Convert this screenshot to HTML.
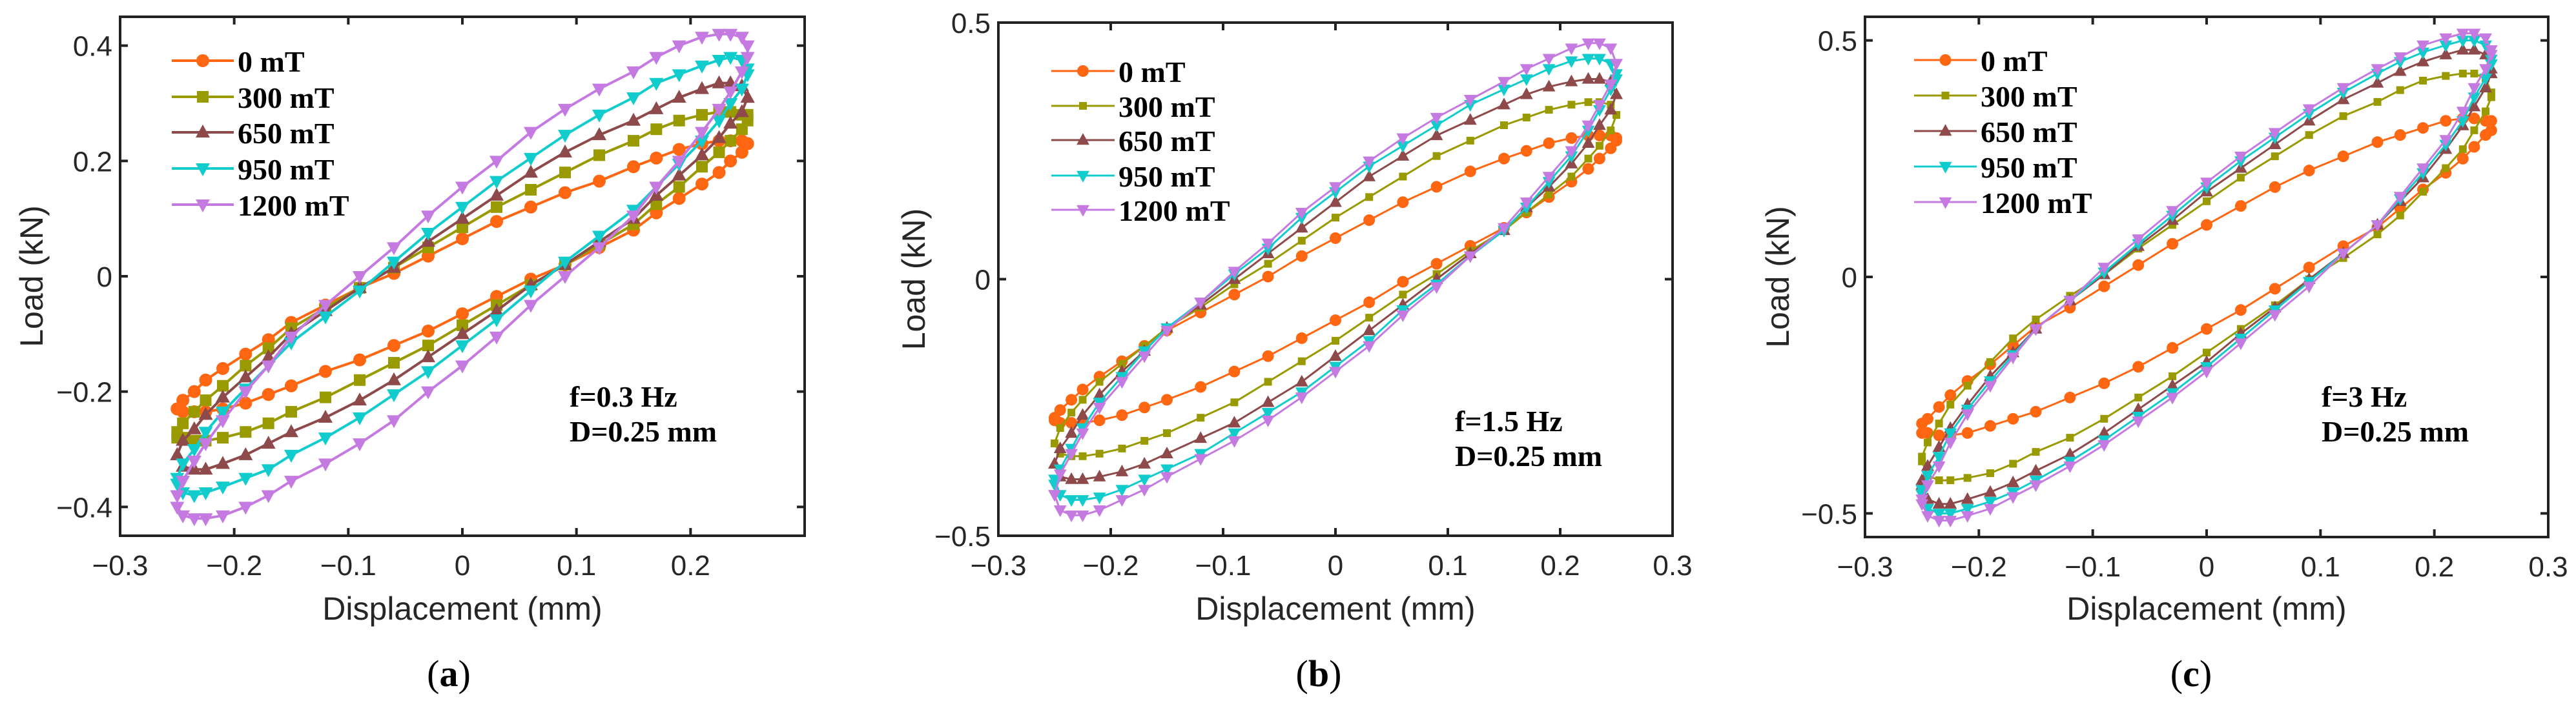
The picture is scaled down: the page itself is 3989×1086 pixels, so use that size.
<!DOCTYPE html>
<html><head><meta charset="utf-8"><style>
html,body{margin:0;padding:0;background:#fff;}
svg{display:block;}
text{font-family:"Liberation Sans",Arial,sans-serif;fill:#262626;}
.leg,.ann{font-family:"Liberation Serif","Times New Roman",serif;font-weight:bold;fill:#000;}
.cap{font-family:"Liberation Serif",serif;fill:#000;}
</style></head><body>
<svg id="fig" width="3989" height="1086" viewBox="0 0 3989 1086" xmlns="http://www.w3.org/2000/svg"></svg>
<script>
// shared displacement grid for the loading (upper) branch, mm
const dispGrid = [-0.25,-0.245,-0.235,-0.225,-0.21,-0.19,-0.17,-0.15,-0.12,-0.09,-0.06,-0.03,0,0.03,0.06,0.09,0.12,0.15,0.17,0.19,0.21,0.225,0.235,0.245,0.25];
const seriesNames = ["0 mT","300 mT","650 mT","950 mT","1200 mT"];
// panel (a) f=0.3 Hz, upper branch loads (kN)
const a0 = [-0.23,-0.215,-0.2,-0.18,-0.16,-0.135,-0.11,-0.08,-0.05,-0.02,0.005,0.035,0.065,0.095,0.12,0.145,0.165,0.19,0.205,0.22,0.23,0.235,0.235,0.235,0.23];
const a300 = [-0.28,-0.255,-0.235,-0.215,-0.19,-0.155,-0.125,-0.09,-0.055,-0.02,0.015,0.05,0.085,0.12,0.15,0.18,0.21,0.235,0.255,0.27,0.28,0.285,0.285,0.28,0.27];
const a650 = [-0.31,-0.285,-0.265,-0.24,-0.21,-0.175,-0.14,-0.1,-0.06,-0.02,0.015,0.06,0.1,0.14,0.18,0.215,0.245,0.27,0.29,0.31,0.325,0.335,0.335,0.33,0.31];
const a950 = [-0.35,-0.325,-0.3,-0.27,-0.235,-0.195,-0.155,-0.115,-0.07,-0.025,0.025,0.075,0.12,0.165,0.205,0.245,0.28,0.31,0.335,0.35,0.365,0.375,0.38,0.375,0.36];
const a1200 = [-0.38,-0.355,-0.32,-0.29,-0.25,-0.2,-0.155,-0.105,-0.05,0,0.05,0.105,0.155,0.2,0.25,0.29,0.325,0.355,0.38,0.4,0.415,0.42,0.42,0.415,0.4];
// panel (b) f=1.5 Hz
const b0 = [-0.275,-0.255,-0.235,-0.215,-0.19,-0.16,-0.13,-0.1,-0.065,-0.03,0.005,0.045,0.08,0.115,0.15,0.18,0.21,0.235,0.25,0.265,0.275,0.28,0.28,0.28,0.27];
const b300 = [-0.32,-0.29,-0.26,-0.235,-0.2,-0.165,-0.13,-0.095,-0.055,-0.01,0.03,0.075,0.12,0.16,0.2,0.24,0.27,0.3,0.315,0.33,0.34,0.345,0.345,0.34,0.32];
const b650 = [-0.36,-0.33,-0.3,-0.265,-0.225,-0.18,-0.14,-0.095,-0.05,0,0.05,0.1,0.15,0.2,0.24,0.28,0.31,0.34,0.36,0.375,0.385,0.39,0.39,0.385,0.36];
const b950 = [-0.4,-0.37,-0.33,-0.29,-0.24,-0.19,-0.14,-0.095,-0.045,0.01,0.06,0.12,0.17,0.22,0.26,0.3,0.34,0.37,0.39,0.41,0.425,0.43,0.43,0.42,0.39];
const b1200 = [-0.42,-0.38,-0.34,-0.3,-0.25,-0.2,-0.15,-0.1,-0.045,0.015,0.07,0.13,0.18,0.23,0.275,0.315,0.35,0.385,0.41,0.43,0.45,0.46,0.46,0.45,0.42];
// panel (c) f=3 Hz
const c0 = [-0.33,-0.3,-0.275,-0.25,-0.22,-0.185,-0.145,-0.105,-0.065,-0.02,0.025,0.07,0.11,0.15,0.19,0.225,0.255,0.285,0.3,0.315,0.33,0.335,0.335,0.33,0.31];
const c300 = [-0.38,-0.35,-0.31,-0.27,-0.23,-0.18,-0.13,-0.09,-0.04,0.005,0.06,0.11,0.16,0.21,0.255,0.3,0.34,0.37,0.395,0.415,0.425,0.43,0.43,0.42,0.39];
const c650 = [-0.43,-0.4,-0.36,-0.32,-0.27,-0.21,-0.16,-0.11,-0.05,0.005,0.065,0.12,0.18,0.23,0.28,0.33,0.375,0.41,0.435,0.455,0.47,0.48,0.48,0.47,0.44];
const c950 = [-0.45,-0.42,-0.38,-0.33,-0.28,-0.22,-0.165,-0.11,-0.05,0.01,0.07,0.13,0.19,0.245,0.295,0.345,0.39,0.43,0.455,0.475,0.49,0.5,0.5,0.49,0.46];
const c1200 = [-0.47,-0.44,-0.4,-0.35,-0.29,-0.23,-0.17,-0.11,-0.05,0.02,0.08,0.14,0.2,0.255,0.305,0.355,0.4,0.44,0.465,0.49,0.505,0.515,0.515,0.505,0.48];
const xTicks = [-0.3,-0.2,-0.1,0,0.1,0.2,0.3];
const xTickLabelsA = ["−0.3","−0.2","−0.1","0","0.1","0.2",""];
const xTickLabelsBC = ["−0.3","−0.2","−0.1","0","0.1","0.2","0.3"];
const yTicksA = [-0.4,-0.2,0,0.2,0.4];
const yTickLabelsA = ["−0.4","−0.2","0","0.2","0.4"];
const yTicksBC = [-0.5,0,0.5];
const yTickLabelsBC = ["−0.5","0","0.5"];

const NS="http://www.w3.org/2000/svg";
const svg=document.getElementById('fig');
const colors=["#ff6611","#999900","#8e4a4a","#11cccc","#c47ae0"];
const shapes=["circle","square","up","down","down"];
function mk(tag,attrs,parent){const e=document.createElementNS(NS,tag);for(const k in attrs)e.setAttribute(k,attrs[k]);(parent||svg).appendChild(e);return e;}
function marker(g,shape,cx,cy,s,col){
  let e;
  if(shape==="circle"){e=mk('circle',{cx:cx,cy:cy,r:s/2,fill:col},g);}
  else if(shape==="square"){e=mk('rect',{x:cx-s/2,y:cy-s/2,width:s,height:s,fill:col},g);}
  else if(shape==="up"){e=mk('polygon',{points:`${cx},${cy-s*0.6} ${cx-s*0.55},${cy+s*0.4} ${cx+s*0.55},${cy+s*0.4}`,fill:col},g);}
  else {e=mk('polygon',{points:`${cx},${cy+s*0.6} ${cx-s*0.55},${cy-s*0.4} ${cx+s*0.55},${cy-s*0.4}`,fill:col},g);}
  return e;
}
function panel(p){
  const g=mk('g',{});
  
  
  const sx=v=>p.L+(v-p.xmin)/(p.xmax-p.xmin)*(p.R-p.L);
  const sy=v=>p.B-(v-p.ymin)/(p.ymax-p.ymin)*(p.B-p.T);
  p.series.forEach((ys,si)=>{
    const sg=mk('g',{},g);
    
    
    const pts=[];
    dispGrid.forEach((x,i)=>pts.push([x,ys[i]]));
    for(let i=0;i<dispGrid.length;i++) pts.push([-dispGrid[i],-ys[i]]);
    const d=pts.map((q,i)=>(i?'L':'M')+sx(q[0]).toFixed(1)+','+sy(q[1]).toFixed(1)).join(' ');
    const pl=mk('path',{d:d,fill:'none',stroke:colors[si],'stroke-width':p.lw,'stroke-linejoin':'round'},sg);
    
    
    pts.forEach(q=>{
      const m=marker(sg,shapes[si],sx(q[0]),sy(q[1]),shapes[si]==="square"?p.sq:p.ms,colors[si]);
      
      
    });
  });
  const box=mk('rect',{x:p.L,y:p.T,width:p.R-p.L,height:p.B-p.T,fill:'none',stroke:'#222','stroke-width':4},g);
  
  
  xTicks.forEach((v,i)=>{
    const x=sx(v);
    mk('line',{x1:x,y1:p.B,x2:x,y2:p.B-12,stroke:'#222','stroke-width':4},g);
    mk('line',{x1:x,y1:p.T,x2:x,y2:p.T+12,stroke:'#222','stroke-width':4},g);
    const t=mk('text',{x:x,y:p.B+61,'font-size':44,'text-anchor':'middle'},g);
    t.textContent=p.xLabels[i];
    
    
  });
  p.yTicks.forEach((v,i)=>{
    const y=sy(v);
    mk('line',{x1:p.L,y1:y,x2:p.L+12,y2:y,stroke:'#222','stroke-width':4},g);
    mk('line',{x1:p.R,y1:y,x2:p.R-12,y2:y,stroke:'#222','stroke-width':4},g);
    const t=mk('text',{x:p.L-12,y:y+16,'font-size':44,'text-anchor':'end'},g);
    t.textContent=p.yLabels[i];
    
    
  });
  const xl=mk('text',{x:(p.L+p.R)/2,y:960,'font-size':50,'text-anchor':'middle'},g);
  xl.textContent='Displacement (mm)';
  
  
  const yl=mk('text',{x:0,y:0,'font-size':50,'text-anchor':'middle',transform:`translate(${p.ylx},${(p.T+p.B)/2}) rotate(-90)`},g);
  yl.textContent='Load (kN)';
  
  
  const lg=mk('g',{},g);
  
  
  seriesNames.forEach((n,si)=>{
    const y=p.legY[si];
    const e=mk('g',{},lg);
    
    
    mk('line',{x1:p.legX1,y1:y,x2:p.legX2,y2:y,stroke:colors[si],'stroke-width':p.lw},e);
    marker(e,shapes[si],(p.legX1+p.legX2)/2,y,shapes[si]==="square"?p.sq:p.ms,colors[si]);
    const t=mk('text',{x:p.legX2+6,y:y+17,'font-size':46,class:'leg'},e);
    t.textContent=n;
  });
  const a1=mk('text',{x:p.annX,y:p.annY,'font-size':46,class:'ann'},g);
  a1.textContent=p.ann;
  
  
  const a2=mk('text',{x:p.annX,y:p.annY+54,'font-size':46,class:'ann'},g);
  a2.textContent='D=0.25 mm';
  
  
  const cp=mk('text',{x:p.capX,y:1063,'font-size':58,'text-anchor':'middle',class:'cap'},g);
  cp.innerHTML='(<tspan font-weight="bold">'+p.cap+'</tspan>)';
  
  
}
panel({name:'panel-a',L:186,R:1246,T:26,B:830,xmin:-0.3,xmax:0.3,ymin:-0.45,ymax:0.45,series:[a0,a300,a650,a950,a1200],
  xLabels:xTickLabelsA,yTicks:yTicksA,yLabels:yTickLabelsA,lw:4,ms:20,sq:18,ylx:66,
  legX1:266,legX2:362,legY:[94,150,205,261,317],annX:882,annY:630,ann:'f=0.3 Hz',cap:'a',capX:695});
panel({name:'panel-b',L:1546,R:2590,T:35,B:830,xmin:-0.3,xmax:0.3,ymin:-0.5,ymax:0.5,series:[b0,b300,b650,b950,b1200],
  xLabels:xTickLabelsBC,yTicks:yTicksBC,yLabels:yTickLabelsBC,lw:3,ms:18,sq:12,ylx:1432,
  legX1:1628,legX2:1726,legY:[110,164,217,272,325],annX:2253,annY:668,ann:'f=1.5 Hz',cap:'b',capX:2042});
panel({name:'panel-c',L:2888,R:3946,T:26,B:832,xmin:-0.3,xmax:0.3,ymin:-0.55,ymax:0.55,series:[c0,c300,c650,c950,c1200],
  xLabels:xTickLabelsBC,yTicks:yTicksBC,yLabels:yTickLabelsBC,lw:3,ms:18,sq:12,ylx:2770,
  legX1:2964,legX2:3061,legY:[93,148,203,258,313],annX:3595,annY:630,ann:'f=3 Hz',cap:'c',capX:3393});
</script>
</body></html>
